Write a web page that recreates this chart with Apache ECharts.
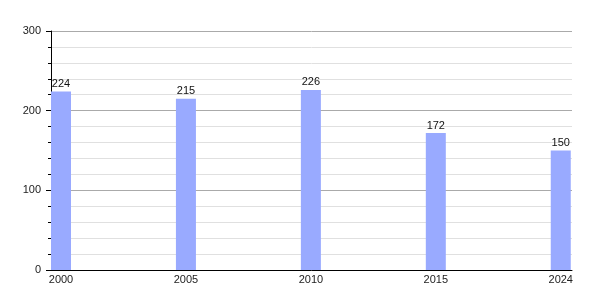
<!DOCTYPE html>
<html><head><meta charset="utf-8">
<script src="https://cdn.jsdelivr.net/npm/echarts@6/dist/echarts.min.js"></script>
<style>html,body{margin:0;padding:0;background:#fff}#c{width:600px;height:300px}</style>
</head><body><div id="c"></div>
<script>
const years = ['2000', '2005', '2010', '2015', '2024'];
const values = [224, 215, 226, 172, 150];
const yTicks = [0, 100, 200, 300];

const chart = echarts.init(document.getElementById('c'), null, {renderer: 'canvas'});
const positions = years.map((y, i) => i);
const font = 'Liberation Sans';
chart.setOption({
  animation: false,
  grid: {left: 51, right: 28, top: 31, bottom: 30, containLabel: false},
  xAxis: {
    type: 'value', min: -0.08, max: 4.09,
    axisLine: {show: true, onZero: false, lineStyle: {color: '#000', width: 1}},
    axisTick: {show: false},
    splitLine: {show: false},
    axisLabel: {
      customValues: positions,
      formatter: v => years[Math.round(v)] || '',
      color: '#222', fontSize: 11, fontFamily: font, margin: 4
    }
  },
  yAxis: {
    type: 'value', min: yTicks[0], max: yTicks[yTicks.length - 1], interval: 100,
    axisLine: {show: true, onZero: false, lineStyle: {color: '#000', width: 1}},
    axisTick: {show: true, length: 5, lineStyle: {color: '#000'}},
    minorTick: {show: true, splitNumber: 5, length: 3, lineStyle: {color: '#000'}},
    splitLine: {show: true, lineStyle: {color: '#aaa', width: 1}},
    minorSplitLine: {show: true, lineStyle: {color: '#e0e0e0', width: 1}},
    axisLabel: {color: '#222', fontSize: 11, fontFamily: font, margin: 10}
  },
  series: [{
    type: 'bar',
    data: values.map((v, i) => [positions[i], v]),
    barWidth: 20,
    itemStyle: {color: '#99aaff'},
    label: {show: true, position: 'top', color: '#111', fontSize: 11, fontFamily: font, distance: 2}
  }]
});
</script></body></html>
